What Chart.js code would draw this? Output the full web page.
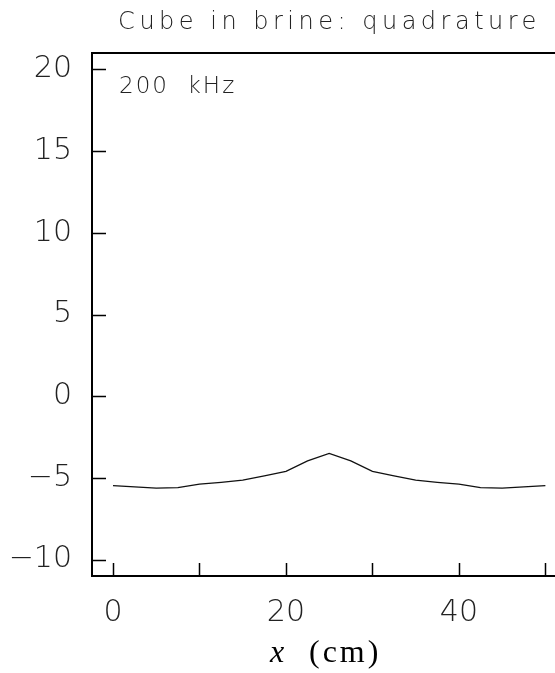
<!DOCTYPE html>
<html>
<head>
<meta charset="utf-8">
<script src="https://cdn.jsdelivr.net/npm/chart.js@4.4.1/dist/chart.umd.min.js"></script>
<style>
  html, body { margin: 0; padding: 0; background: #fff; overflow: hidden; }
  #wrap { width: 620px; height: 673px; }
</style>
</head>
<body>
<div id="wrap"><canvas id="chart" width="620" height="673"></canvas></div>
<script>
// position along the cube scan (cm) and quadrature response
const positions = [0, 2.5, 5, 7.5, 10, 12.5, 15, 17.5, 20, 22.5, 25, 27.5, 30, 32.5, 35, 37.5, 40, 42.5, 45, 47.5, 50];
const quadrature = [-5.47, -5.55, -5.62, -5.59, -5.38, -5.27, -5.14, -4.88, -4.6, -3.96, -3.5,
                    -3.96, -4.6, -4.88, -5.14, -5.27, -5.38, -5.59, -5.62, -5.55, -5.47];
const xTicks = [0, 10, 20, 30, 40, 50];
const xLabelled = [0, 20, 40];
const yTicks = [-10, -5, 0, 5, 10, 15, 20];

const titleText = "Cube in brine: quadrature";
const freqText = "200  kHz";
const thinFont = '"DejaVu Sans"';

const points = positions.map((x, i) => ({x: x, y: quadrature[i]}));

// frame, inward ticks and the text around the plot
const framePlugin = {
    id: 'frame',
    afterDraw(chart) {
        const ctx = chart.ctx;
        const a = chart.chartArea;
        const xs = chart.scales.x, ys = chart.scales.y;
        ctx.save();
        ctx.strokeStyle = '#000';
        ctx.lineWidth = 2;
        ctx.strokeRect(a.left, a.top, a.right - a.left, a.bottom - a.top);

        ctx.lineWidth = 1.5;
        ctx.beginPath();
        xTicks.forEach(v => {
            const px = Math.round(xs.getPixelForValue(v)) + 0.5;
            ctx.moveTo(px, a.bottom);
            ctx.lineTo(px, a.bottom - 13);
        });
        yTicks.forEach(v => {
            const py = Math.round(ys.getPixelForValue(v)) + 0.5;
            ctx.moveTo(a.left, py);
            ctx.lineTo(a.left + 14, py);
        });
        ctx.stroke();

        ctx.fillStyle = '#222';
        ctx.textBaseline = 'middle';
        ctx.textAlign = 'left';

        // title
        ctx.font = '200 24px ' + thinFont;
        ctx.letterSpacing = '4.5px';
        const tw = ctx.measureText(titleText).width;
        ctx.fillText(titleText, (a.left + a.right) / 2 - tw / 2, 23);

        // frequency note
        ctx.font = '200 23px ' + thinFont;
        ctx.letterSpacing = '2px';
        ctx.fillText(freqText, 119, 87);

        // axis label: italic x, upright (cm)
        ctx.fillStyle = '#000';
        ctx.letterSpacing = '0px';
        ctx.font = 'italic 32px "Liberation Serif"';
        ctx.fillText('x', 270, 654);
        ctx.letterSpacing = '3px';
        ctx.font = '32px "Liberation Serif"';
        ctx.fillText('(cm)', 309, 654);
        ctx.restore();
    }
};

new Chart(document.getElementById('chart').getContext('2d'), {
    type: 'scatter',
    data: {
        datasets: [{
            data: points,
            showLine: true,
            borderColor: '#111',
            borderWidth: 1.3,
            pointRadius: 0,
            tension: 0
        }]
    },
    options: {
        responsive: false,
        animation: false,
        layout: {padding: {left: 0, top: 53, right: 53, bottom: 0}},
        plugins: {legend: {display: false}, tooltip: {enabled: false}},
        scales: {
            x: {
                type: 'linear',
                min: -2.43,
                max: 52.5,
                grid: {display: false},
                border: {display: false},
                afterBuildTicks: s => { s.ticks = xTicks.map(v => ({value: v})); },
                afterFit: s => { s.height = 97; },
                ticks: {
                    padding: 11,
                    color: '#222',
                    font: {family: 'DejaVu Sans', size: 30, weight: 200},
                    callback: v => xLabelled.includes(v) ? String(v) : ''
                }
            },
            y: {
                min: -11,
                max: 21,
                grid: {display: false},
                border: {display: false},
                afterBuildTicks: s => { s.ticks = yTicks.map(v => ({value: v})); },
                afterFit: s => { s.width = 92; },
                ticks: {
                    padding: 12,
                    color: '#222',
                    font: {family: 'DejaVu Sans', size: 30, weight: 200},
                    callback: v => v < 0 ? '\u2212' + Math.abs(v) : String(v)
                }
            }
        }
    },
    plugins: [framePlugin]
});
</script>
</body>
</html>
